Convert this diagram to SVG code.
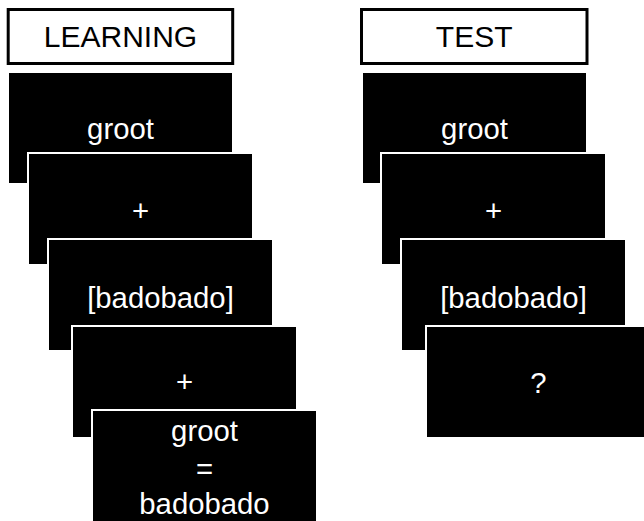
<svg xmlns="http://www.w3.org/2000/svg" width="644" height="521" viewBox="0 0 644 521">
<style>
.hdr{fill:#fff;stroke:#000;stroke-width:3}
.ht{font-family:"Liberation Sans",Arial,sans-serif;font-size:30px;fill:#000;text-anchor:middle}
.scr{fill:#000;stroke:#fff;stroke-width:2}
.t{font-family:"Liberation Sans",Arial,sans-serif;font-size:29.3px;fill:#fff;text-anchor:middle}
</style>
<rect width="644" height="521" fill="#fff"/>
<g id="learning-header">
<rect class="hdr" x="8.2" y="9.5" width="224.5" height="54"/>
<text class="ht" x="120.5" y="47">LEARNING</text>
</g>
<g id="test-header">
<rect class="hdr" x="361.5" y="9.5" width="225.5" height="54"/>
<text class="ht" x="474.2" y="47">TEST</text>
</g>
<g id="learn-1">
<rect class="scr" x="8" y="72" width="225" height="112"/>
<text class="t" x="120.5" y="139">groot</text>
</g>
<g id="learn-2">
<rect class="scr" x="28" y="153" width="225" height="112"/>
<text class="t" x="140.5" y="221">+</text>
</g>
<g id="learn-3">
<rect class="scr" x="48" y="239" width="225" height="112"/>
<text class="t" x="160.5" y="308">[badobado]</text>
</g>
<g id="learn-4">
<rect class="scr" x="72" y="326" width="225" height="112"/>
<text class="t" x="184.5" y="392">+</text>
</g>
<g id="learn-5">
<rect class="scr" x="92" y="410" width="225" height="120"/>
<text class="t" x="204.5" y="441">groot</text>
<text class="t" x="204.5" y="479">=</text>
<text class="t" x="204.5" y="514">badobado</text>
</g>
<g id="test-1">
<rect class="scr" x="362" y="72" width="225" height="112"/>
<text class="t" x="474.5" y="139">groot</text>
</g>
<g id="test-2">
<rect class="scr" x="381" y="153" width="225" height="112"/>
<text class="t" x="493.5" y="221">+</text>
</g>
<g id="test-3">
<rect class="scr" x="401" y="239" width="225" height="112"/>
<text class="t" x="513.5" y="308">[badobado]</text>
</g>
<g id="test-4">
<rect class="scr" x="426" y="326" width="225" height="112"/>
<text class="t" x="538.5" y="393">?</text>
</g>
</svg>
